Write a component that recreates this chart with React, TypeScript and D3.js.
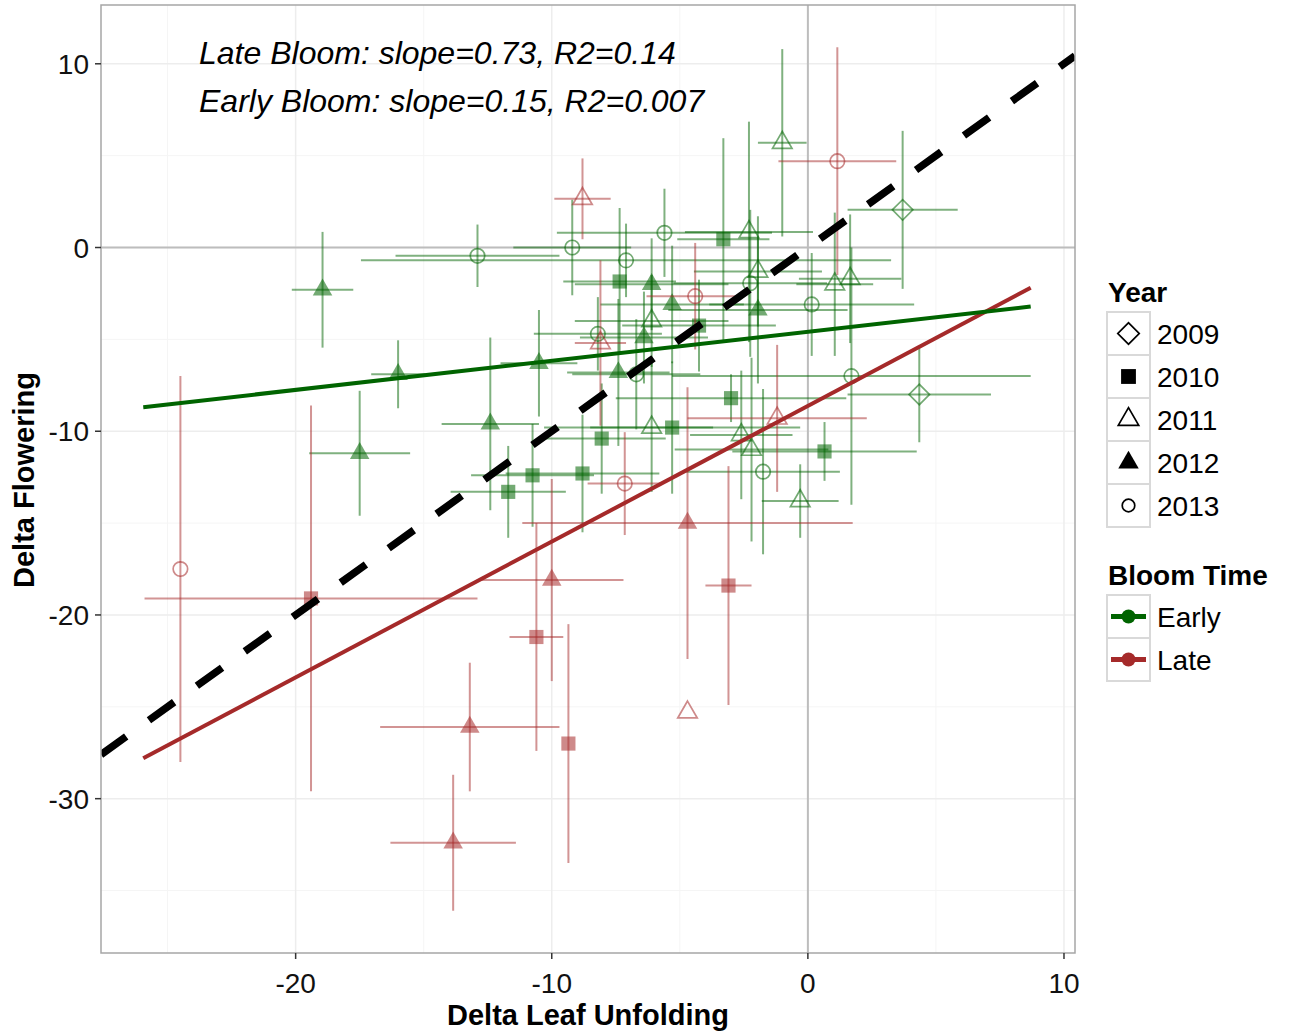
import React from 'react';
import * as d3 from 'd3';

// ---- data ----
const earlyX = [-18.95, -12.9, -9.2, -7.1, -5.6, -3.3, -2.3, -1.0, 3.7, 4.35, 1.7, 1.65, 1.05, 0.15, -2.25, -1.95, -1.95, -3.0, -2.6, -2.2, -1.75, -0.3, 0.65, -5.3, -6.1, -8.05, -8.8, -10.75, -11.7, -12.4, -10.5, -7.4, -6.7, -6.4, -6.1, -5.3, -6.1, -7.35, -8.2, -4.25, -17.5, -16.0];
const earlyY = [-2.3, -0.45, 0.0, -0.7, 0.8, 0.45, 0.85, 5.7, 2.05, -8.0, -7.0, -1.7, -2.0, -3.1, -1.95, -1.3, -3.4, -8.2, -10.2, -11.0, -12.2, -13.8, -11.1, -9.8, -9.8, -10.4, -12.3, -12.4, -13.3, -9.6, -6.3, -6.8, -6.9, -4.9, -4.0, -3.1, -2.0, -1.85, -4.7, -4.25, -11.2, -6.9];
const earlyXErr = [1.2, 3.2, 2.3, 10.35, 4.2, 1.8, 2.5, 0.95, 2.15, 2.8, 7.0, 2.0, 1.5, 4.0, 3.0, 2.5, 3.5, 4.5, 2.0, 3.0, 3.0, 1.5, 3.6, 5.0, 2.4, 2.5, 3.0, 2.4, 2.25, 1.9, 1.5, 2.0, 2.5, 2.5, 3.0, 2.8, 3.0, 2.2, 2.5, 3.0, 1.97, 1.05];
const earlyYErr = [3.15, 1.7, 2.6, 2.0, 2.4, 5.5, 6.0, 5.1, 4.3, 2.6, 7.0, 3.5, 3.9, 2.8, 4.0, 3.0, 4.0, 1.3, 3.5, 5.0, 4.5, 2.0, 1.6, 3.6, 3.5, 3.0, 3.2, 2.8, 2.5, 4.7, 2.9, 4.0, 3.0, 2.5, 2.5, 3.2, 2.5, 4.0, 2.0, 2.5, 3.4, 1.85];
const earlyYear = [2012, 2013, 2013, 2013, 2013, 2010, 2011, 2011, 2009, 2009, 2013, 2011, 2011, 2013, 2013, 2011, 2012, 2010, 2011, 2011, 2013, 2011, 2010, 2010, 2011, 2010, 2010, 2010, 2010, 2012, 2012, 2012, 2013, 2012, 2011, 2012, 2012, 2010, 2013, 2010, 2012, 2012];

const lateX = [-24.5, -19.4, -13.2, -13.85, -10.6, -10.0, -9.35, -4.7, -3.1, -4.7, -7.15, -1.2, 1.15, -8.8, -4.4, -8.1];
const lateY = [-17.5, -19.1, -26.1, -32.4, -21.2, -18.1, -27.0, -15.0, -18.4, -25.3, -12.85, -9.3, 4.7, 2.65, -2.65, -5.2];
const lateXErr = [0, 6.5, 3.5, 2.45, 1.05, 2.8, 0, 6.45, 0.9, 0, 1.45, 3.5, 2.3, 1.1, 1.9, 1.0];
const lateYErr = [10.5, 10.5, 3.5, 3.7, 6.2, 5.5, 6.5, 7.4, 6.5, 0, 2.8, 4.0, 6.2, 2.2, 2.9, 4.5];
const lateYear = [2013, 2010, 2012, 2012, 2010, 2012, 2010, 2012, 2010, 2011, 2013, 2011, 2013, 2011, 2013, 2011];

const fitNames = ['Early', 'Late'];
const fitSlopes = [0.158, 0.739];
const fitIntercepts = [-4.59, -8.62];
const fitXRange = [-25.95, 8.7];

const xTicks = [-20, -10, 0, 10];
const yTicks = [10, 0, -10, -20, -30];
const xMinor = [-25, -15, -5, 5];
const yMinor = [5, -5, -15, -25, -35];
const years = [2009, 2010, 2011, 2012, 2013];
const bloomTimes = ['Early', 'Late'];
const annotations = ['Late Bloom: slope=0.73, R2=0.14', 'Early Bloom: slope=0.15, R2=0.007'];

const GREEN = '#006400';
const RED = '#A52A2A';
const FONT = '"Liberation Sans", Arial, Helvetica, sans-serif';

const W = 1296, H = 1034;
const P = { left: 101, right: 1075, top: 5, bottom: 953 };

const x = d3.scaleLinear().domain([-27.6, 10.43]).range([P.left, P.right]);
const y = d3.scaleLinear().domain([-38.4, 13.2]).range([P.bottom, P.top]);

function shapeFor(year: number, scale = 1) {
  const s = d3.symbol();
  switch (year) {
    case 2009: return { d: s.type(d3.symbolSquare).size(210 * scale)() as string, filled: false, rot: 45 };
    case 2010: return { d: s.type(d3.symbolSquare).size(200 * scale)() as string, filled: true, rot: 0 };
    case 2011: return { d: s.type(d3.symbolTriangle).size(165 * scale)() as string, filled: false, rot: 0 };
    case 2012: return { d: s.type(d3.symbolTriangle).size(165 * scale)() as string, filled: true, rot: 0 };
    default: return { d: s.type(d3.symbolCircle).size(165 * scale)() as string, filled: false, rot: 0 };
  }
}

function Series({ xs, ys, xe, ye, yr, color }: any) {
  return (
    <g>
      {xs.map((xv: number, i: number) => (
        <g key={'e' + i} stroke={color} strokeOpacity={0.5} strokeWidth={2}>
          {xe[i] > 0 && <line x1={x(xv - xe[i])} x2={x(xv + xe[i])} y1={y(ys[i])} y2={y(ys[i])} />}
          {ye[i] > 0 && <line x1={x(xv)} x2={x(xv)} y1={y(ys[i] - ye[i])} y2={y(ys[i] + ye[i])} />}
        </g>
      ))}
      {xs.map((xv: number, i: number) => {
        const sh = shapeFor(yr[i]);
        return (
          <path key={'p' + i} d={sh.d}
            transform={`translate(${x(xv)},${y(ys[i])}) rotate(${sh.rot})`}
            fill={sh.filled ? color : 'none'} fillOpacity={0.55}
            stroke={color} strokeOpacity={0.55} strokeWidth={sh.filled ? 0 : 1.7} />
        );
      })}
    </g>
  );
}

export default function App() {
  const line = d3.line<[number, number]>().x(d => x(d[0])).y(d => y(d[1]));
  const fitLines = fitNames.map((n, i) => line(fitXRange.map(xv => [xv, fitIntercepts[i] + fitSlopes[i] * xv] as [number, number])) as string);
  const idLine = line(x.domain().map(v => [v, v] as [number, number])) as string;

  const legX = 1107, keyW = 43, keyH = 43;
  const yearTop = 312, bloomTop = 595;

  return (
    <div style={{ position: 'absolute', left: 0, top: 0 }}>
      <svg width={W} height={H} style={{ display: 'block', fontFamily: FONT }}>
        <rect x={0} y={0} width={W} height={H} fill="#fff" />
        <defs>
          <clipPath id="panel"><rect x={P.left} y={P.top} width={P.right - P.left} height={P.bottom - P.top} /></clipPath>
        </defs>
        {/* grid */}
        <g stroke="#f5f5f5" strokeWidth={1}>
          {xMinor.map(v => <line key={'xm' + v} x1={x(v)} x2={x(v)} y1={P.top} y2={P.bottom} />)}
          {yMinor.map(v => <line key={'ym' + v} x1={P.left} x2={P.right} y1={y(v)} y2={y(v)} />)}
        </g>
        <g stroke="#ededed" strokeWidth={1.5}>
          {xTicks.map(v => <line key={'xg' + v} x1={x(v)} x2={x(v)} y1={P.top} y2={P.bottom} />)}
          {yTicks.map(v => <line key={'yg' + v} x1={P.left} x2={P.right} y1={y(v)} y2={y(v)} />)}
        </g>
        {/* zero lines */}
        <g stroke="#bdbdbd" strokeWidth={2}>
          <line x1={x(0)} x2={x(0)} y1={P.top} y2={P.bottom} />
          <line x1={P.left} x2={P.right} y1={y(0)} y2={y(0)} />
        </g>
        <g clipPath="url(#panel)">
          <Series xs={earlyX} ys={earlyY} xe={earlyXErr} ye={earlyYErr} yr={earlyYear} color={GREEN} />
          <Series xs={lateX} ys={lateY} xe={lateXErr} ye={lateYErr} yr={lateYear} color={RED} />
          <path d={fitLines[1]} stroke={RED} strokeWidth={4} fill="none" />
          <path d={fitLines[0]} stroke={GREEN} strokeWidth={4} fill="none" />
          <path d={idLine} stroke="#000" strokeWidth={7.5} strokeDasharray="31,28" fill="none" />
        </g>
        {/* annotations */}
        {annotations.map((t, i) => (
          <text key={t} x={199} y={64 + i * 48} fontSize={32} fontStyle="italic" fill="#000">{t}</text>
        ))}
        {/* panel border */}
        <rect x={P.left} y={P.top} width={P.right - P.left} height={P.bottom - P.top} fill="none" stroke="#a6a6a6" strokeWidth={1.5} />
        {/* axes */}
        <g stroke="#333" strokeWidth={1.5}>
          {xTicks.map(v => <line key={'xt' + v} x1={x(v)} x2={x(v)} y1={P.bottom} y2={P.bottom + 6} />)}
          {yTicks.map(v => <line key={'yt' + v} x1={P.left - 6} x2={P.left} y1={y(v)} y2={y(v)} />)}
        </g>
        <g fontSize={28} fill="#111">
          {xTicks.map(v => <text key={'xl' + v} x={x(v)} y={993} textAnchor="middle">{v}</text>)}
          {yTicks.map(v => <text key={'yl' + v} x={89} y={y(v) + 10} textAnchor="end">{v}</text>)}
        </g>
        <text x={588} y={1025} textAnchor="middle" fontSize={29} fontWeight="bold">Delta Leaf Unfolding</text>
        <text transform="translate(34,480) rotate(-90)" textAnchor="middle" fontSize={29} fontWeight="bold">Delta Flowering</text>
        {/* legend: Year */}
        <text x={1108} y={302} fontSize={28} fontWeight="bold">Year</text>
        {years.map((yv, i) => {
          const sh = shapeFor(yv, i === 4 ? 0.75 : 1.1);
          const cy = yearTop + i * keyH + keyH / 2;
          return (
            <g key={'ly' + yv}>
              <rect x={legX} y={yearTop + i * keyH} width={keyW} height={keyH} fill="#fff" stroke="#d9d9d9" strokeWidth={2} />
              <path d={sh.d} transform={`translate(${legX + keyW / 2},${cy}) rotate(${sh.rot})`} fill={sh.filled ? '#000' : 'none'} stroke="#000" strokeWidth={sh.filled ? 0 : 1.7} />
              <text x={1157} y={cy + 10} fontSize={28}>{yv}</text>
            </g>
          );
        })}
        {/* legend: Bloom Time */}
        <text x={1108} y={585} fontSize={28} fontWeight="bold">Bloom Time</text>
        {bloomTimes.map((b, i) => {
          const cy = bloomTop + i * keyH + keyH / 2;
          const c = i === 0 ? GREEN : RED;
          return (
            <g key={'lb' + b}>
              <rect x={legX} y={bloomTop + i * keyH} width={keyW} height={keyH} fill="#fff" stroke="#d9d9d9" strokeWidth={2} />
              <line x1={legX + 4} x2={legX + keyW - 4} y1={cy} y2={cy} stroke={c} strokeWidth={5} />
              <circle cx={legX + keyW / 2} cy={cy} r={7} fill={c} />
              <text x={1157} y={cy + 10} fontSize={28}>{b}</text>
            </g>
          );
        })}
      </svg>
    </div>
  );
}
